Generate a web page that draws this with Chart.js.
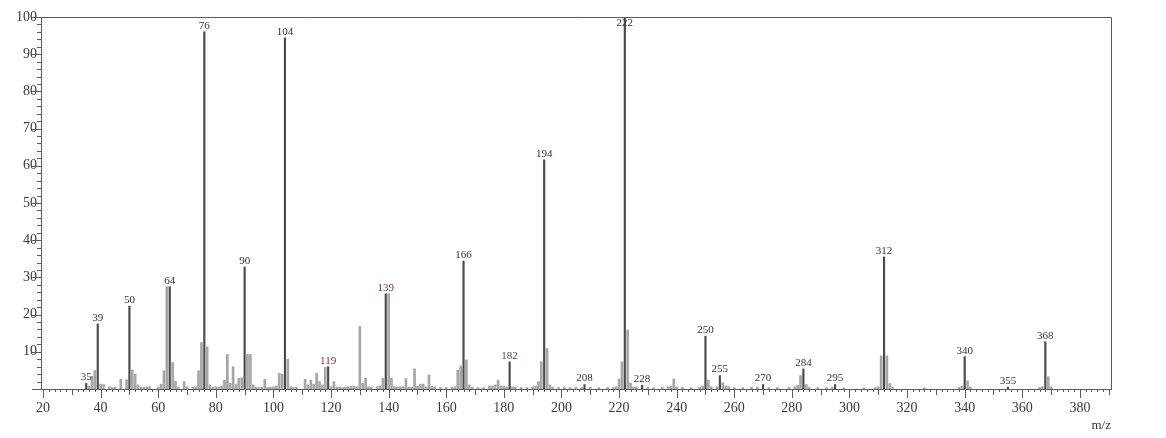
<!DOCTYPE html>
<html>
<head>
<meta charset="utf-8">
<script src="https://cdn.jsdelivr.net/npm/chart.js@4.4.1/dist/chart.umd.min.js"></script>
<style>
  html, body { margin: 0; padding: 0; background: #fff; }
</style>
</head>
<body>
<canvas id="ms" width="1166" height="438"></canvas>
<script>
// m/z values and relative intensities (%)
const mz = [
  35, 36, 37, 38, 39, 40, 41, 43, 44, 45, 47, 49, 50, 51, 52, 53, 54, 55, 56, 57,
  60, 61, 62, 63, 64, 65, 66, 67, 69, 70, 72, 73, 74, 75, 76, 77, 78, 79, 80, 81,
  82, 83, 84, 85, 86, 87, 88, 89, 90, 91, 92, 93, 94, 95, 96, 97, 98, 99, 100, 101,
  102, 103, 104, 105, 106, 107, 108, 111, 112, 113, 114, 115, 116, 117, 118, 119, 120, 121, 122, 123,
  124, 125, 126, 127, 128, 129, 130, 131, 132, 133, 134, 136, 137, 138, 139, 140, 141, 142, 143, 144,
  145, 146, 147, 148, 149, 150, 151, 152, 153, 154, 155, 156, 158, 160, 162, 163, 164, 165, 166, 167,
  168, 169, 171, 173, 175, 176, 177, 178, 179, 180, 181, 182, 183, 184, 186, 188, 190, 191, 192, 193,
  194, 195, 196, 197, 199, 201, 203, 205, 207, 208, 210, 213, 216, 218, 219, 220, 221, 222, 223, 224,
  225, 226, 228, 230, 232, 235, 237, 238, 239, 240, 242, 245, 248, 249, 250, 251, 252, 254, 255, 256,
  257, 258, 260, 263, 266, 268, 270, 272, 275, 279, 281, 282, 283, 284, 285, 286, 289, 292, 294, 295,
  298, 305, 309, 310, 311, 312, 313, 314, 315, 326, 338, 339, 340, 341, 342, 355, 366, 367, 368, 369,
  370
];
const intensity = [
  1.5, 0.8, 3.4, 5.0, 17.5, 1.3, 1.2, 0.6, 0.4, 0.5, 2.6, 2.5, 22.3, 5.1, 4.0, 1.1, 0.4, 0.5, 0.6, 0.6,
  0.5, 1.3, 4.9, 27.5, 27.5, 7.1, 2.1, 0.5, 2.0, 0.6, 0.5, 0.6, 4.9, 12.5, 96.0, 11.3, 1.1, 0.5, 0.6, 0.5,
  0.8, 2.4, 9.3, 1.5, 6.0, 1.3, 2.9, 3.0, 32.8, 9.3, 9.3, 1.1, 0.5, 0.4, 0.5, 2.6, 0.4, 0.5, 0.6, 0.8,
  4.2, 4.0, 94.4, 8.0, 0.6, 0.4, 0.5, 2.6, 1.1, 2.4, 1.3, 4.2, 2.0, 1.1, 5.8, 6.0, 0.6, 2.0, 0.5, 0.5,
  0.4, 0.5, 0.6, 0.7, 0.7, 0.6, 16.8, 1.5, 2.9, 0.6, 0.5, 0.6, 0.8, 2.9, 25.6, 25.6, 2.9, 0.6, 0.5, 0.6,
  0.6, 2.8, 0.5, 0.5, 5.4, 0.8, 1.3, 1.3, 0.6, 3.8, 0.8, 0.6, 0.4, 0.4, 0.5, 0.6, 5.1, 6.2, 34.4, 7.8,
  1.1, 0.5, 0.4, 0.4, 0.8, 0.8, 1.1, 2.4, 0.8, 0.8, 0.5, 7.3, 0.6, 0.5, 0.4, 0.4, 0.6, 0.8, 2.0, 7.3,
  61.6, 10.9, 1.1, 0.5, 0.4, 0.5, 0.4, 0.5, 0.4, 1.2, 0.5, 0.4, 0.4, 0.4, 0.6, 2.7, 7.3, 100.0, 15.9, 1.6,
  0.5, 0.6, 1.0, 0.5, 0.4, 0.5, 0.6, 0.8, 2.7, 0.6, 0.5, 0.4, 0.5, 0.8, 14.2, 2.4, 0.6, 0.6, 3.6, 1.7,
  0.8, 0.6, 0.4, 0.4, 0.5, 0.5, 1.2, 0.4, 0.4, 0.5, 0.6, 1.0, 3.6, 5.4, 1.2, 0.5, 0.4, 0.4, 0.5, 1.2,
  0.3, 0.3, 0.4, 0.6, 8.9, 35.5, 8.9, 1.5, 0.5, 0.3, 0.5, 0.8, 8.7, 2.2, 0.5, 0.5, 0.4, 0.6, 12.7, 3.3,
  0.6
];
// peaks that carry an m/z label
const labelledPeaks = [35, 39, 50, 64, 76, 90, 104, 119, 139, 166, 182, 194, 208, 222, 228, 250, 255, 270, 284, 295, 312, 340, 355, 368];
// axis tick labels
const xTickValues = [20, 40, 60, 80, 100, 120, 140, 160, 180, 200, 220, 240, 260, 280, 300, 320, 340, 360, 380];
const yTickValues = [10, 20, 30, 40, 50, 60, 70, 80, 90, 100];

const SERIF = '"Liberation Serif", "DejaVu Serif", serif';
const labelColour = { 119: '#7a2a3c', 139: '#7a2a3c', 182: '#3d4a66' };

const points = mz.map((m, i) => ({ x: m, y: intensity[i] }));
const labelledPoints = points.filter(p => labelledPeaks.includes(p.x));
const otherPoints = points.filter(p => !labelledPeaks.includes(p.x));

// frame, ruler ticks, peak labels and the m/z caption
const decorations = {
  id: 'decorations',
  afterDatasetsDraw(chart) {
    const { ctx, chartArea: a, scales: { x, y } } = chart;
    ctx.save();
    ctx.strokeStyle = '#5c5c5c';
    ctx.lineWidth = 1;
    ctx.beginPath();
    ctx.moveTo(a.left, a.top + 0.5);
    ctx.lineTo(a.right + 0.5, a.top + 0.5);
    ctx.lineTo(a.right + 0.5, a.bottom);
    ctx.stroke();

    ctx.beginPath();
    // y ruler
    for (let v = 0; v <= 100; v += 2) {
      const py = Math.round(y.getPixelForValue(v)) + 0.5;
      const len = v % 10 === 0 ? 9 : 4;
      ctx.moveTo(a.left - len, py);
      ctx.lineTo(a.left, py);
    }
    // x ruler
    for (let v = 20; v <= x.max; v += 2) {
      const px = Math.round(x.getPixelForValue(v)) + 0.5;
      const len = v % 20 === 0 ? 9 : (v % 10 === 0 ? 6 : 3);
      ctx.moveTo(px, a.bottom);
      ctx.lineTo(px, a.bottom + len);
    }
    ctx.stroke();

    // peak labels, placed just above the library's bar tops
    const meta = chart.getDatasetMeta(0);
    ctx.font = '11px ' + SERIF;
    ctx.textAlign = 'center';
    ctx.textBaseline = 'middle';
    labelledPoints.forEach((p, i) => {
      const bar = meta.data[i];
      const ty = Math.max(bar.y - 6, a.top + 6);
      ctx.fillStyle = labelColour[p.x] || '#333';
      ctx.fillText(String(p.x), bar.x, ty);
    });

    ctx.font = '13px ' + SERIF;
    ctx.fillStyle = '#333';
    ctx.textAlign = 'right';
    ctx.fillText('m/z', a.right, 426);
    ctx.restore();
  }
};

new Chart(document.getElementById('ms'), {
  type: 'bar',
  data: {
    datasets: [
      { data: labelledPoints, backgroundColor: '#4a4a4a', borderWidth: 0, barThickness: 1.5, grouped: false, order: 0 },
      { data: otherPoints, backgroundColor: '#a6a6a6', borderWidth: 0, barThickness: 2, grouped: false, order: 1 }
    ]
  },
  options: {
    responsive: false,
    animation: false,
    layout: { padding: { left: 0, right: 55, top: 17, bottom: 0 } },
    plugins: { legend: { display: false }, tooltip: { enabled: false } },
    scales: {
      x: {
        type: 'linear',
        offset: false,
        min: 19.3,
        max: 390.8,
        afterBuildTicks: s => { s.ticks = xTickValues.map(v => ({ value: v })); },
        afterFit: s => { s.height = 49; },
        grid: { display: false, drawTicks: false },
        border: { display: true, color: '#5c5c5c', width: 1 },
        ticks: { autoSkip: false, maxRotation: 0, padding: 11, color: '#3a3a3a', font: { family: SERIF, size: 14 } }
      },
      y: {
        min: 0,
        max: 100,
        afterBuildTicks: s => { s.ticks = yTickValues.map(v => ({ value: v })); },
        afterFit: s => { s.width = 41; },
        grid: { display: false, drawTicks: false },
        border: { display: true, color: '#5c5c5c', width: 1 },
        ticks: { padding: 4, color: '#3a3a3a', font: { family: SERIF, size: 14 } }
      }
    }
  },
  plugins: [decorations]
});
</script>
</body>
</html>
